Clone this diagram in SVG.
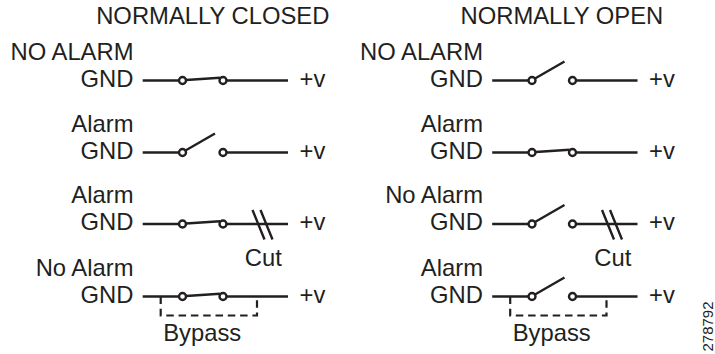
<svg xmlns="http://www.w3.org/2000/svg" width="715" height="354" viewBox="0 0 715 354">
<style>
text{font-family:"Liberation Sans",Arial,sans-serif;fill:#231f20}
.t{font-size:23.8px}
.e{text-anchor:end}
.w{stroke:#231f20;stroke-width:2.4;fill:none}
.c{stroke:#231f20;stroke-width:2.4;fill:#fff}
.d{stroke:#231f20;stroke-width:2.2;fill:none;stroke-dasharray:7.5 4.8}
.id{font-size:15px}
</style>
<rect width="715" height="354" fill="#fff"/>
<g id="titles">
<text class="t" x="96.2" y="23.8">NORMALLY CLOSED</text>
<text class="t" x="460.5" y="23.8">NORMALLY OPEN</text>
</g>
<g id="connectors">
<g transform="translate(0,80.5)"><path class="w" d="M142.7 0H179M226.5 0H288"/></g>
<g transform="translate(0,152.5)"><path class="w" d="M142.7 0H179M226.5 0H288"/></g>
<g transform="translate(0,224)"><path class="w" d="M142.7 0H179M226.5 0H288"/></g>
<g transform="translate(0,296.5)"><path class="w" d="M142.7 0H179M226.5 0H288"/></g>
<g transform="translate(349.5,80.5)"><path class="w" d="M142.7 0H179M226.5 0H288"/></g>
<g transform="translate(349.5,152.5)"><path class="w" d="M142.7 0H179M226.5 0H288"/></g>
<g transform="translate(349.5,224)"><path class="w" d="M142.7 0H179M226.5 0H288"/></g>
<g transform="translate(349.5,296.5)"><path class="w" d="M142.7 0H179M226.5 0H288"/></g>
</g>
<g id="nc-no-alarm" transform="translate(0,80.5)">
<text class="t e" x="133.5" y="-21">NO ALARM</text>
<text class="t e" x="133.5" y="6">GND</text>
<text class="t" x="299.5" y="6">+v</text>
<path class="w" d="M186 -0.5L220 -2.8"/>
<circle class="c" cx="182.5" cy="0" r="3.5"/><circle class="c" cx="223" cy="0" r="3.5"/>
</g>
<g id="nc-alarm" transform="translate(0,152.5)">
<text class="t e" x="133.5" y="-21">Alarm</text>
<text class="t e" x="133.5" y="6">GND</text>
<text class="t" x="299.5" y="6">+v</text>
<path class="w" d="M185.5 -2L215 -19"/>
<circle class="c" cx="182.5" cy="0" r="3.5"/><circle class="c" cx="223" cy="0" r="3.5"/>
</g>
<g id="nc-alarm-cut" transform="translate(0,224)">
<text class="t e" x="133.5" y="-21">Alarm</text>
<text class="t e" x="133.5" y="6">GND</text>
<text class="t" x="299.5" y="6">+v</text>
<path class="w" d="M186 -0.5L220 -2.8"/>
<circle class="c" cx="182.5" cy="0" r="3.5"/><circle class="c" cx="223" cy="0" r="3.5"/>
<path class="w" d="M252.5 -14L264.5 15.5M260.5 -14L272.5 15.5"/>
<text class="t" x="244.8" y="42">Cut</text>
</g>
<g id="nc-no-alarm-bypass" transform="translate(0,296.5)">
<text class="t e" x="133.5" y="-21">No Alarm</text>
<text class="t e" x="133.5" y="6">GND</text>
<text class="t" x="299.5" y="6">+v</text>
<path class="w" d="M186 -0.5L220 -2.8"/>
<circle class="c" cx="182.5" cy="0" r="3.5"/><circle class="c" cx="223" cy="0" r="3.5"/>
<path class="d" d="M160.7 0V19H257V0"/>
<text class="t" x="163.2" y="44.5">Bypass</text>
</g>
<g id="no-no-alarm" transform="translate(349.5,80.5)">
<text class="t e" x="133.5" y="-21">NO ALARM</text>
<text class="t e" x="133.5" y="6">GND</text>
<text class="t" x="299.5" y="6">+v</text>
<path class="w" d="M185.5 -2L215 -19"/>
<circle class="c" cx="182.5" cy="0" r="3.5"/><circle class="c" cx="223" cy="0" r="3.5"/>
</g>
<g id="no-alarm" transform="translate(349.5,152.5)">
<text class="t e" x="133.5" y="-21">Alarm</text>
<text class="t e" x="133.5" y="6">GND</text>
<text class="t" x="299.5" y="6">+v</text>
<path class="w" d="M186 -0.5L220 -2.8"/>
<circle class="c" cx="182.5" cy="0" r="3.5"/><circle class="c" cx="223" cy="0" r="3.5"/>
</g>
<g id="no-no-alarm-cut" transform="translate(349.5,224)">
<text class="t e" x="133.5" y="-21">No Alarm</text>
<text class="t e" x="133.5" y="6">GND</text>
<text class="t" x="299.5" y="6">+v</text>
<path class="w" d="M185.5 -2L215 -19"/>
<circle class="c" cx="182.5" cy="0" r="3.5"/><circle class="c" cx="223" cy="0" r="3.5"/>
<path class="w" d="M252.5 -14L264.5 15.5M260.5 -14L272.5 15.5"/>
<text class="t" x="244.8" y="42">Cut</text>
</g>
<g id="no-alarm-bypass" transform="translate(349.5,296.5)">
<text class="t e" x="133.5" y="-21">Alarm</text>
<text class="t e" x="133.5" y="6">GND</text>
<text class="t" x="299.5" y="6">+v</text>
<path class="w" d="M185.5 -2L215 -19"/>
<circle class="c" cx="182.5" cy="0" r="3.5"/><circle class="c" cx="223" cy="0" r="3.5"/>
<path class="d" d="M160.7 0V19H257V0"/>
<text class="t" x="163.2" y="44.5">Bypass</text>
</g>
<g id="figure-id">
<text class="id" transform="translate(712.5,351.5) rotate(-90)">278792</text>
</g>
</svg>
